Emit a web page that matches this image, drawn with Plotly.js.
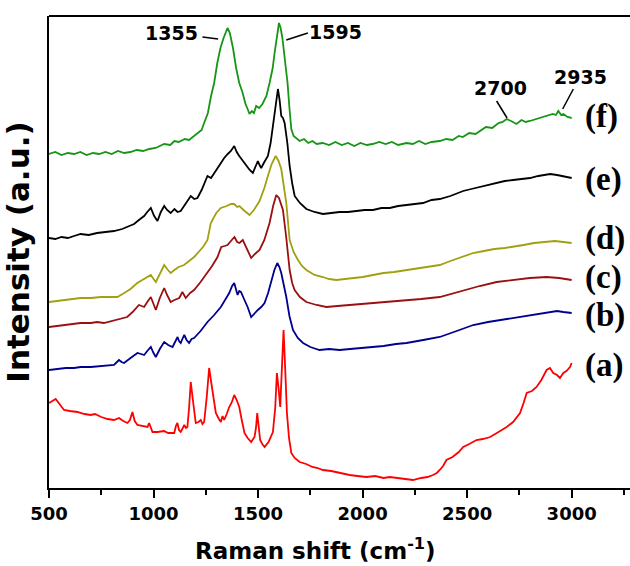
<!DOCTYPE html>
<html>
<head>
<meta charset="utf-8">
<script src="https://cdn.plot.ly/plotly-3.0.1.min.js"></script>
<style>html,body{margin:0;padding:0;background:#fff;overflow:hidden;}</style>
</head>
<body>
<div id="chart" style="width:630px;height:566px;"></div>
<script>
// Raman shift (cm-1) and intensity (a.u., stacked) for each spectrum
const xF = [500,530,560,590,620,650,680,710,740,770,800,830,860,889,920,950,980,1010,1030,1051,1080,1100,1120,1150,1170,1194,1215,1230,1242,1260,1275,1290,1305,1320,1335,1354,1365,1380,1395,1410,1425,1440,1450,1459,1470,1480,1491,1505,1521,1540,1555,1570,1579,1590,1600,1608,1617,1630,1641,1650,1659,1670,1685,1699,1720,1740,1760,1780,1809,1840,1870,1900,1930,1960,1990,2020,2048,2080,2110,2140,2170,2210,2240,2270,2300,2330,2369,2400,2430,2460,2479,2510,2540,2561,2590,2620,2650,2670,2689,2710,2736,2760,2780,2800,2830,2860,2880,2910,2925,2936,2950,2960,2980,3000];
const yF = [334,336,333,335,334,336,333,335,334,336,334,337,335,336,338,337,339,340,342,344,343,347,346,349,348,352,355,358,365,375,392,405,425,440,450,460,455,440,420,405,396,384,379,374,377,375,382,380,384,392,405,420,435,452,465,460,449,425,405,380,359,352,349,347,349,345,347,344,345,343,346,343,345,342,345,343,344,346,344,346,343,345,344,347,344,346,347,349,348,352,351,355,354,357,361,360,365,366,369,367,364,368,366,367,369,371,372,374,373,377,373,374,371,370];

const xE = [500,530,560,590,620,651,690,730,770,811,850,880,907,930,955,970,987,1003,1019,1035,1051,1065,1082,1100,1115,1130,1150,1165,1178,1195,1210,1230,1245,1258,1275,1290,1310,1325,1338,1355,1370,1386,1398,1410,1425,1443,1460,1475,1490,1499,1507,1515,1530,1547,1560,1571,1583,1595,1603,1611,1619,1627,1640,1651,1663,1675,1700,1731,1770,1810,1850,1890,1930,1970,2010,2050,2090,2130,2170,2210,2250,2289,2330,2369,2420,2481,2520,2560,2600,2641,2680,2720,2760,2801,2840,2870,2897,2930,2960,2980,3000];
const yE = [250,249,251,250,252,254,253,255,256,257,259,262,264,268,272,276,280,272,267,276,282,278,275,279,276,277,283,288,292,289,290,298,306,312,310,315,321,327,330,334,337,342,336,332,328,322,318,315,322,327,323,320,326,332,345,362,385,399,388,372,370,365,345,322,305,292,285,279,276,274,275,276,276,277,278,278,280,280,282,283,284,285,288,289,292,297,299,301,303,305,307,308,309,310,312,313,314,313,312,311,310];

const xD = [500,540,580,620,651,700,750,790,827,860,890,922,955,987,1000,1011,1030,1051,1065,1082,1100,1120,1146,1170,1194,1220,1240,1258,1274,1300,1322,1350,1370,1386,1400,1411,1430,1459,1480,1507,1530,1547,1565,1584,1598,1611,1622,1635,1651,1670,1691,1710,1731,1770,1810,1840,1874,1920,1960,2000,2050,2100,2150,2210,2260,2310,2369,2420,2470,2529,2580,2630,2680,2720,2770,2820,2860,2880,2920,2960,3000];
const yD = [186,187,188,189,190,190,191,191,191,195,199,205,209,213,209,206,214,223,219,215,218,221,223,227,231,237,242,248,265,275,280,282,284,284,281,282,278,273,278,287,300,312,324,332,327,319,303,285,248,236,228,222,218,213,211,209,208,209,210,211,213,215,216,218,220,221,223,227,231,235,237,239,240,241,243,245,246,246,247,246,245];

const xC = [500,540,580,620,651,700,730,762,800,840,874,900,930,943,955,970,987,1000,1011,1030,1051,1065,1082,1100,1123,1138,1154,1175,1194,1225,1258,1280,1306,1324,1340,1354,1370,1387,1400,1411,1427,1445,1467,1485,1507,1530,1555,1572,1587,1600,1619,1635,1651,1663,1675,1700,1731,1780,1827,1880,1940,2000,2050,2120,2200,2280,2369,2420,2481,2560,2641,2720,2800,2880,2940,3000];
const yC = [161,162,163,164,165,165,166,165,167,169,171,176,183,182,181,186,191,184,178,190,200,193,186,188,190,196,190,195,198,206,215,222,231,241,242,243,247,251,246,245,248,240,230,234,238,248,265,282,293,290,278,250,218,205,198,191,186,183,181,182,183,184,185,186,188,189,191,194,198,202,206,208,210,211,210,208];

const xB = [500,540,580,620,651,700,750,790,811,825,835,847,859,890,923,940,955,970,987,1000,1011,1030,1051,1070,1091,1103,1115,1122,1130,1140,1147,1158,1170,1182,1194,1225,1258,1290,1322,1345,1362,1376,1386,1394,1402,1410,1418,1435,1450,1467,1483,1499,1515,1531,1548,1563,1578,1592,1602,1611,1622,1635,1650,1667,1690,1715,1750,1794,1840,1890,1940,2000,2050,2100,2160,2210,2290,2369,2450,2529,2600,2660,2720,2800,2880,2930,2960,3000];
const yB = [118,119,120,120,121,121,122,123,123,126,128,126,125,130,135,134,133,137,141,135,131,139,146,143,141,146,151,147,145,150,153,148,145,149,150,157,166,173,181,189,195,202,205,199,193,197,196,188,181,171,175,178,181,185,195,208,218,225,221,215,205,191,172,158,150,145,141,138,139,138,139,140,141,142,144,145,148,151,157,163,166,168,170,173,176,177,176,175];

const xA = [500,515,532,550,572,600,636,670,699,720,750,780,811,835,855,875,887,899,910,923,950,971,979,987,995,1019,1050,1070,1099,1107,1114,1122,1130,1140,1147,1155,1162,1170,1178,1190,1202,1215,1226,1234,1242,1254,1266,1280,1298,1310,1322,1330,1338,1350,1362,1375,1386,1398,1410,1422,1435,1450,1467,1483,1490,1496,1503,1510,1520,1531,1550,1571,1582,1590,1598,1606,1614,1622,1630,1638,1648,1659,1675,1699,1730,1760,1785,1810,1850,1890,1938,1975,2018,2060,2100,2130,2170,2200,2241,2280,2310,2337,2355,2369,2385,2401,2430,2460,2481,2510,2545,2575,2610,2650,2689,2720,2753,2770,2785,2810,2832,2855,2880,2896,2912,2930,2944,2960,2975,2992,3000];
const yA = [85,87,89,84,78,77,76,74,73,74,71,69,68,70,67,65,68,76,67,63,62,61,65,60,56,56,57,55,55,62,65,58,56,60,63,60,61,80,106,85,65,66,68,64,66,90,120,100,75,70,66,72,68,74,81,86,93,88,81,68,55,50,46,51,60,75,62,48,44,41,46,56,80,115,100,81,120,158,118,75,50,35,30,26,24,21,20,18,17,15,13,12,11,12,10,11,10,9,8,10,11,13,15,18,22,28,31,36,41,44,48,49,51,56,61,66,75,85,95,97,101,108,118,120,115,113,110,115,117,121,125];

const seriesNames = ['(a)','(b)','(c)','(d)','(e)','(f)'];
const seriesColors = ['#ff0000','#000090','#9a1010','#a0a010','#000000','#169516'];
const peakLabels = ['1355','1595','2700','2935'];

const xs = [xA,xB,xC,xD,xE,xF];
const ys = [yA,yB,yC,yD,yE,yF];
const traces = xs.map((x,i)=>({
  x:x, y:ys[i], type:'scatter', mode:'lines', name:seriesNames[i],
  line:{color:seriesColors[i], width:1.8}, hoverinfo:'skip'
}));

// series labels on the right (anchored at data coords)
const labelY = [123,173,211,250,309,372];
const annotations = seriesNames.map((t,i)=>({
  x:3054, y:labelY[i], xref:'x', yref:'y', text:t, showarrow:false,
  xanchor:'left', yanchor:'middle',
  font:{family:'Liberation Serif, Times New Roman, serif', size:33, color:'#000', weight:'bold'}
}));
const peakPos = [[1086,455],[1870,456],[2660,400],[3043,411]];
peakLabels.forEach((t,i)=>annotations.push({
  x:peakPos[i][0], y:peakPos[i][1], xref:'x', yref:'y', text:t, showarrow:false,
  xanchor:'center', yanchor:'middle',
  font:{family:'DejaVu Sans, sans-serif', size:19, color:'#000', weight:'bold'}
}));
// x-axis title (placed as in the reference, left of the plot centre)
annotations.push({
  x:0.458, y:-0.129, xref:'paper', yref:'paper', text:'Raman shift (cm<sup>-1</sup>)', showarrow:false,
  xanchor:'center', yanchor:'middle',
  font:{family:'DejaVu Sans, sans-serif', size:23, color:'#000', weight:'bold'}
});

const leader = [[1234,451,1309,449],[1635,448,1738,455],[2641,387,2691,370],[3008,399,2957,379]];
const shapes = leader.map(l=>({type:'line', xref:'x', yref:'y', x0:l[0], y0:l[1], x1:l[2], y1:l[3], line:{color:'#000', width:1.5}}));
shapes.push({type:'line', xref:'paper', yref:'paper', x0:0, x1:1, y0:1, y1:1, line:{color:'#000', width:2}});

const layout = {
  width:630, height:566,
  margin:{l:49, r:0, t:16, b:78},
  paper_bgcolor:'#fff', plot_bgcolor:'#fff',
  showlegend:false,
  xaxis:{
    range:[500,3279], showgrid:false, zeroline:false,
    showline:true, linecolor:'#000', linewidth:2,
    ticks:'outside', ticklen:8, tickwidth:2, tickcolor:'#000',
    tickmode:'array', tickvals:[500,1000,1500,2000,2500,3000],
    ticktext:['500','1000','1500','2000','2500','3000'],
    minor:{tickmode:'array', tickvals:[750,1250,1750,2250,2750,3250], ticks:'outside', ticklen:5, tickwidth:2, tickcolor:'#000'},
    tickfont:{family:'DejaVu Sans, sans-serif', size:18, color:'#000', weight:'bold'}
  },
  yaxis:{
    range:[0,472], showgrid:false, zeroline:false,
    showline:true, linecolor:'#000', linewidth:2,
    ticks:'', showticklabels:false,
    title:{text:'Intensity (a.u.)', standoff:10,
      font:{family:'DejaVu Sans, sans-serif', size:31, color:'#000', weight:'bold'}}
  },
  annotations:annotations,
  shapes:shapes
};
Plotly.newPlot('chart', traces, layout, {staticPlot:true, displayModeBar:false});
</script>
</body>
</html>
